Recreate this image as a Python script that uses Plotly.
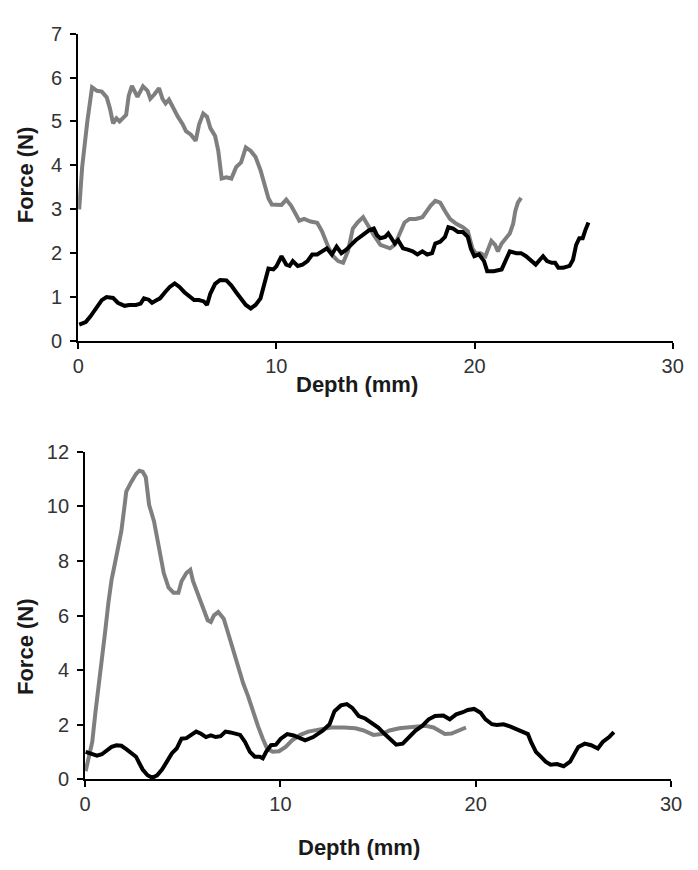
import plotly.graph_objects as go

# ---- Top panel data ----
top_gray_x = [0.05, 0.2, 0.46, 0.7, 0.95, 1.19, 1.44, 1.6, 1.76, 1.93, 2.09, 2.42, 2.55, 2.71, 2.99, 3.27, 3.5, 3.64, 3.85, 4.08, 4.25, 4.41, 4.58, 4.79, 5.03, 5.28, 5.44, 5.69, 5.93, 6.1, 6.31, 6.5, 6.67, 6.91, 7.07, 7.24, 7.48, 7.73, 7.97, 8.22, 8.46, 8.71, 8.95, 9.2, 9.44, 9.6, 9.77, 10.26, 10.5, 10.75, 11.16, 11.4, 11.73, 12.06, 12.3, 12.63, 12.87, 13.12, 13.37, 13.61, 13.86, 14.1, 14.38, 14.67, 14.92, 15.25, 15.49, 15.74, 15.98, 16.23, 16.47, 16.72, 17.04, 17.37, 17.53, 17.78, 18.02, 18.27, 18.51, 18.76, 19.08, 19.41, 19.66, 19.9, 20.06, 20.31, 20.55, 20.72, 20.85, 21.04, 21.18, 21.37, 21.62, 21.78, 21.95, 22.06, 22.19, 22.35]
top_gray_y = [3.0, 3.96, 5.0, 5.78, 5.7, 5.68, 5.55, 5.3, 4.96, 5.07, 5.0, 5.15, 5.59, 5.81, 5.56, 5.8, 5.7, 5.52, 5.62, 5.76, 5.52, 5.41, 5.5, 5.3, 5.11, 4.93, 4.78, 4.7, 4.56, 4.93, 5.18, 5.11, 4.85, 4.67, 4.33, 3.7, 3.73, 3.7, 3.96, 4.07, 4.41, 4.33, 4.19, 3.89, 3.45, 3.25, 3.11, 3.1, 3.22, 3.08, 2.74, 2.78, 2.72, 2.69, 2.5, 2.13, 1.93, 1.82, 1.78, 2.04, 2.56, 2.7, 2.82, 2.59, 2.41, 2.19, 2.15, 2.11, 2.19, 2.48, 2.7, 2.78, 2.78, 2.82, 2.93, 3.08, 3.19, 3.15, 2.96, 2.78, 2.67, 2.59, 2.5, 2.1, 2.0, 2.0, 1.93, 2.11, 2.28, 2.19, 2.04, 2.22, 2.37, 2.45, 2.67, 2.96, 3.15, 3.26]

top_black_x = [0.05, 0.38, 0.62, 0.95, 1.19, 1.43, 1.76, 2.0, 2.34, 2.58, 2.91, 3.15, 3.32, 3.56, 3.73, 3.97, 4.13, 4.38, 4.62, 4.87, 5.11, 5.36, 5.6, 5.85, 6.09, 6.34, 6.5, 6.67, 6.91, 7.16, 7.48, 7.73, 7.97, 8.22, 8.46, 8.71, 8.95, 9.2, 9.36, 9.6, 9.85, 10.0, 10.26, 10.5, 10.67, 10.83, 11.08, 11.32, 11.57, 11.81, 12.06, 12.3, 12.55, 12.8, 13.04, 13.28, 13.53, 13.77, 14.02, 14.35, 14.67, 14.92, 15.08, 15.25, 15.49, 15.65, 15.82, 15.98, 16.14, 16.39, 16.63, 16.88, 17.12, 17.37, 17.61, 17.86, 18.02, 18.27, 18.51, 18.68, 18.92, 19.17, 19.41, 19.66, 19.82, 19.99, 20.23, 20.48, 20.64, 20.97, 21.37, 21.62, 21.78, 22.11, 22.35, 22.6, 22.84, 23.09, 23.3, 23.46, 23.66, 23.9, 24.07, 24.23, 24.48, 24.8, 24.97, 25.13, 25.29, 25.46, 25.59, 25.75]
top_black_y = [0.37, 0.43, 0.56, 0.78, 0.93, 1.0, 0.98, 0.87, 0.8, 0.82, 0.82, 0.85, 0.97, 0.94, 0.87, 0.93, 0.97, 1.11, 1.23, 1.31, 1.23, 1.11, 1.02, 0.93, 0.93, 0.9, 0.82, 1.08, 1.3, 1.39, 1.38, 1.26, 1.11, 0.97, 0.82, 0.74, 0.82, 0.97, 1.23, 1.65, 1.63, 1.7, 1.93, 1.74, 1.71, 1.82, 1.71, 1.74, 1.82, 1.97, 1.97, 2.04, 2.11, 1.97, 2.15, 2.0, 2.08, 2.19, 2.3, 2.41, 2.52, 2.56, 2.41, 2.34, 2.37, 2.45, 2.34, 2.22, 2.3, 2.11, 2.08, 2.04, 1.97, 2.04, 1.97, 2.0, 2.22, 2.26, 2.37, 2.59, 2.56, 2.48, 2.48, 2.37, 2.1, 1.93, 1.97, 1.82, 1.59, 1.59, 1.63, 1.89, 2.04, 2.0, 2.0, 1.93, 1.85, 1.74, 1.85, 1.93, 1.82, 1.78, 1.78, 1.67, 1.67, 1.71, 1.85, 2.19, 2.34, 2.34, 2.52, 2.7]

# ---- Bottom panel data ----
bot_gray_x = [0.03, 0.2, 0.37, 0.53, 0.7, 0.87, 1.03, 1.2, 1.36, 1.53, 1.7, 1.86, 2.03, 2.11, 2.36, 2.61, 2.78, 2.95, 3.11, 3.28, 3.53, 3.69, 3.86, 4.03, 4.28, 4.53, 4.78, 4.94, 5.19, 5.39, 5.53, 5.78, 6.03, 6.28, 6.44, 6.6, 6.82, 7.1, 7.35, 7.6, 7.85, 8.1, 8.35, 8.6, 8.85, 9.1, 9.32, 9.6, 9.93, 10.27, 10.6, 11.02, 11.43, 12.1, 12.6, 13.27, 13.84, 14.26, 14.76, 15.18, 15.59, 16.09, 16.76, 17.42, 17.84, 18.09, 18.42, 18.76, 19.09, 19.5]
bot_gray_y = [0.3, 0.77, 1.37, 2.44, 3.39, 4.46, 5.41, 6.49, 7.32, 7.91, 8.51, 9.1, 10.06, 10.54, 10.89, 11.19, 11.31, 11.27, 11.07, 10.06, 9.46, 8.87, 8.15, 7.56, 7.02, 6.84, 6.84, 7.26, 7.56, 7.68, 7.26, 6.79, 6.25, 5.83, 5.77, 6.01, 6.13, 5.89, 5.3, 4.7, 3.99, 3.51, 3.04, 2.44, 1.96, 1.49, 1.13, 1.01, 1.03, 1.19, 1.43, 1.63, 1.75, 1.84, 1.9, 1.9, 1.87, 1.79, 1.63, 1.66, 1.79, 1.87, 1.93, 1.96, 1.9, 1.79, 1.66, 1.68, 1.79, 1.9]

bot_black_x = [0.03, 0.28, 0.61, 0.86, 1.11, 1.36, 1.61, 1.86, 2.11, 2.36, 2.61, 2.78, 2.95, 3.2, 3.44, 3.69, 3.94, 4.19, 4.44, 4.69, 4.94, 5.19, 5.44, 5.69, 5.94, 6.19, 6.44, 6.69, 6.94, 7.19, 7.44, 7.69, 7.94, 8.19, 8.44, 8.69, 8.94, 9.1, 9.27, 9.52, 9.77, 10.02, 10.35, 10.68, 10.93, 11.27, 11.68, 12.18, 12.52, 12.77, 13.1, 13.4, 13.68, 14.01, 14.34, 14.68, 15.01, 15.34, 15.68, 15.93, 16.26, 16.59, 16.92, 17.26, 17.59, 17.92, 18.34, 18.67, 19.0, 19.34, 19.59, 19.92, 20.25, 20.5, 20.83, 21.08, 21.42, 21.75, 22.08, 22.42, 22.67, 22.83, 23.08, 23.33, 23.58, 23.83, 24.16, 24.5, 24.83, 25.25, 25.58, 25.91, 26.25, 26.5, 26.83, 27.07]
bot_black_y = [1.01, 0.95, 0.87, 0.92, 1.07, 1.19, 1.25, 1.23, 1.11, 0.95, 0.83, 0.59, 0.36, 0.15, 0.06, 0.15, 0.36, 0.65, 0.95, 1.13, 1.49, 1.51, 1.61, 1.75, 1.67, 1.55, 1.61, 1.55, 1.58, 1.75, 1.72, 1.66, 1.63, 1.37, 1.01, 0.83, 0.83, 0.77, 1.01, 1.25, 1.27, 1.49, 1.66, 1.61, 1.52, 1.43, 1.55, 1.79, 2.02, 2.5, 2.71, 2.76, 2.62, 2.32, 2.23, 2.08, 1.9, 1.66, 1.43, 1.27, 1.31, 1.55, 1.79, 1.96, 2.2, 2.32, 2.34, 2.2, 2.38, 2.46, 2.54, 2.58, 2.44, 2.2, 2.02, 1.99, 2.02, 1.94, 1.84, 1.73, 1.66, 1.37, 1.01, 0.83, 0.65, 0.54, 0.56, 0.48, 0.65, 1.19, 1.31, 1.25, 1.13, 1.37, 1.55, 1.73]

x_ticks = [0, 10, 20, 30]
top_y_ticks = [0, 1, 2, 3, 4, 5, 6, 7]
bot_y_ticks = [0, 2, 4, 6, 8, 10, 12]
x_title = "Depth (mm)"
y_title = "Force (N)"

GRAY = "#7f7f7f"
BLACK = "#000000"
LW = 4

fig = go.Figure()
fig.add_trace(go.Scatter(x=top_gray_x, y=top_gray_y, mode="lines", line=dict(color=GRAY, width=LW), xaxis="x", yaxis="y", showlegend=False))
fig.add_trace(go.Scatter(x=top_black_x, y=top_black_y, mode="lines", line=dict(color=BLACK, width=LW), xaxis="x", yaxis="y", showlegend=False))
fig.add_trace(go.Scatter(x=bot_gray_x, y=bot_gray_y, mode="lines", line=dict(color=GRAY, width=LW), xaxis="x2", yaxis="y2", showlegend=False))
fig.add_trace(go.Scatter(x=bot_black_x, y=bot_black_y, mode="lines", line=dict(color=BLACK, width=LW), xaxis="x2", yaxis="y2", showlegend=False))

W, H = 698, 870
FONT = "Liberation Sans, Arial, sans-serif"
tickfont = dict(family=FONT, size=20, color="#333333")
titlefont = dict(family=FONT, size=22, color="#1a1a1a")

def xaxis(domain, anchor):
    return dict(domain=domain, anchor=anchor, range=[0, 30], tickvals=x_ticks,
                showgrid=False, zeroline=False, showline=True, linecolor="black", linewidth=2,
                ticks="outside", ticklen=6, tickwidth=2, tickcolor="black", tickfont=tickfont)

def yaxis(domain, anchor, rng, tv):
    return dict(domain=domain, anchor=anchor, range=rng, tickvals=tv,
                showgrid=False, zeroline=False, showline=True, linecolor="black", linewidth=2,
                ticks="outside", ticklen=6, tickwidth=2, tickcolor="black", tickfont=tickfont,
                ticklabelstandoff=4)

def px_x(p):
    return p / W

def px_y(p):
    return 1 - p / H

annotations = [
    dict(text="<b>%s</b>" % x_title, x=px_x(360), y=px_y(383), xref="paper", yref="paper",
         showarrow=False, font=titlefont, xanchor="center", yanchor="middle"),
    dict(text="<b>%s</b>" % x_title, x=px_x(362), y=px_y(858), xref="paper", yref="paper",
         showarrow=False, font=titlefont, xanchor="center", yanchor="middle"),
    dict(text="<b>%s</b>" % y_title, x=px_x(20), y=px_y(168), xref="paper", yref="paper",
         showarrow=False, font=titlefont, textangle=-90, xanchor="center", yanchor="middle"),
    dict(text="<b>%s</b>" % y_title, x=px_x(20), y=px_y(652), xref="paper", yref="paper",
         showarrow=False, font=titlefont, textangle=-90, xanchor="center", yanchor="middle"),
]

fig.update_layout(
    width=W, height=H,
    margin=dict(l=0, r=0, t=0, b=0),
    paper_bgcolor="white", plot_bgcolor="white",
    xaxis=xaxis([74 / W, 683.3 / W], "y"),
    yaxis=yaxis([(H - 338.5) / H, (H - 23.3) / H], "x", [0, 7], top_y_ticks),
    xaxis2=xaxis([81 / W, 681.7 / W], "y2"),
    yaxis2=yaxis([(H - 788.3) / H, (H - 452.3) / H], "x2", [0, 12], bot_y_ticks),
    annotations=annotations,
)

fig.write_html("out.html")
